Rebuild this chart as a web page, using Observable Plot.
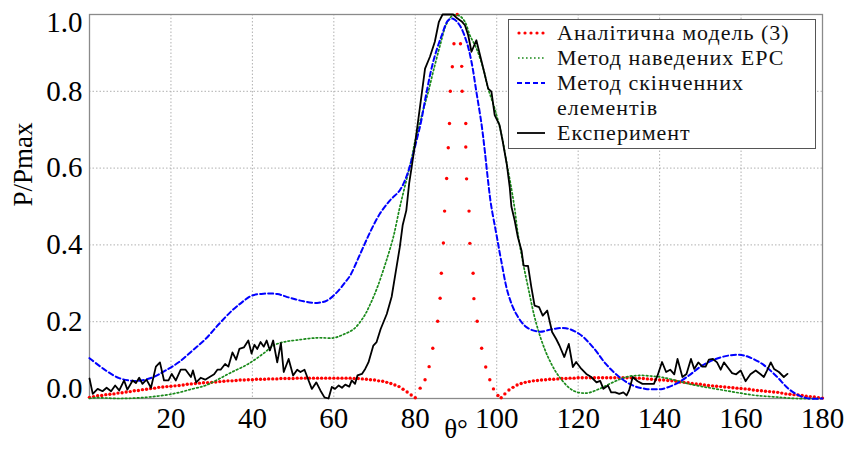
<!DOCTYPE html>
<html><head><meta charset="utf-8">
<script src="https://cdn.jsdelivr.net/npm/d3@7"></script>
<script src="https://cdn.jsdelivr.net/npm/@observablehq/plot@0.6"></script>
<style>
body{margin:0;background:#fff;}
#wrap{position:relative;width:864px;height:450px;font-family:"Liberation Serif","Times New Roman",serif;}
#legend{position:absolute;left:508px;top:19px;width:308px;height:130px;border:1px solid #555;background:#fff;box-sizing:border-box;}
.it{position:absolute;left:0;height:22px;width:300px;}
.it svg{position:absolute;left:8px;top:4px;}
.it span{position:absolute;left:48px;top:0;font-family:"Liberation Serif","Times New Roman",serif;font-size:22px;line-height:22px;letter-spacing:1px;color:#111;white-space:nowrap;}
</style>
</head><body>
<div id="wrap"></div>
<script>
// ---- data (θ in degrees, P/Pmax) ----
const xTicks = [20, 40, 60, 80, 100, 120, 140, 160, 180];
const yTicks = [0.2, 0.4, 0.6, 0.8];
const xGrid = [20, 40, 60, 80, 100, 120, 140, 160];
const yGrid = [0.2, 0.4, 0.6, 0.8];

const legendLabels = ["Аналітична модель (3)", "Метод наведених ЕРС", "Метод скінченних", "елементів", "Експеримент"];

// Аналітична модель (3)
const analytic = [
[0,0.003],[1,0.005],[2,0.007],[3,0.008],[4,0.010],[5,0.011],[6,0.012],[7,0.014],[8,0.015],[9,0.017],
[10,0.018],[11,0.020],[12,0.021],[13,0.023],[14,0.024],[15,0.026],[16,0.027],[17,0.029],[18,0.030],[19,0.031],
[20,0.032],[21,0.033],[22,0.034],[23,0.035],[24,0.037],[25,0.038],[26,0.039],[27,0.040],[28,0.041],[29,0.041],
[30,0.042],[31,0.043],[32,0.044],[33,0.045],[34,0.046],[35,0.046],[36,0.047],[37,0.048],[38,0.048],[39,0.049],
[40,0.049],[41,0.050],[42,0.050],[43,0.050],[44,0.051],[45,0.051],[46,0.051],[47,0.052],[48,0.052],[49,0.052],
[50,0.052],[51,0.053],[52,0.053],[53,0.053],[54,0.053],[55,0.053],[56,0.053],[57,0.053],[58,0.053],[59,0.053],
[60,0.053],[61,0.053],[62,0.053],[63,0.053],[64,0.053],[65,0.052],[66,0.052],[67,0.051],[68,0.050],[69,0.049],
[70,0.048],[71,0.046],[72,0.045],[73,0.042],[74,0.039],[75,0.035],[76,0.031],[77,0.024],[78,0.017],[79,0.009],
[80,0.002],[81.2,0.027],[82.4,0.049],[83.4,0.083],[84.3,0.131],[85.5,0.201],[86.1,0.261],[86.4,0.326],[86.9,0.405],
[87.2,0.488],[87.7,0.573],[88.1,0.653],[88.4,0.716],[88.6,0.8],[89.1,0.864],[89.5,0.924],[90.3,1.0],[91.1,0.924],
[91.4,0.865],[91.5,0.8],[92.4,0.716],[92.4,0.655],[92.6,0.572],[93.2,0.488],[93.4,0.404],[94.2,0.326],[94.4,0.26],
[95.2,0.201],[96.3,0.131],[97.3,0.082],[98.3,0.049],[99.2,0.025],[100.3,0.008],[101.1,0.002],
[102,0.012],[103,0.022],[104,0.029],[105,0.035],[106,0.039],[107,0.042],[108,0.044],[109,0.046],
[110,0.047],[111,0.048],[112,0.049],[113,0.050],[114,0.050],[115,0.051],[116,0.052],[117,0.052],[118,0.053],[119,0.053],
[120,0.054],[121,0.054],[122,0.054],[123,0.054],[124,0.054],[125,0.054],[126,0.054],[127,0.054],[128,0.054],[129,0.054],
[130,0.054],[131,0.054],[132,0.054],[133,0.054],[134,0.053],[135,0.053],[136,0.052],[137,0.051],[138,0.050],[139,0.049],
[140,0.048],[141,0.048],[142,0.047],[143,0.046],[144,0.045],[145,0.043],[146,0.042],[147,0.041],[148,0.039],[149,0.038],
[150,0.037],[151,0.035],[152,0.034],[153,0.033],[154,0.032],[155,0.031],[156,0.030],[157,0.029],[158,0.028],[159,0.027],
[160,0.026],[161,0.025],[162,0.024],[163,0.022],[164,0.021],[165,0.020],[166,0.019],[167,0.018],[168,0.017],[169,0.016],
[170,0.014],[171,0.012],[172,0.011],[173,0.010],[174,0.009],[175,0.008],[176,0.006],[177,0.005],[178,0.004],[179,0.002],[180,0.001]
];

// Метод наведених ЕРС
const emf = [
[0,0],[1.6,0.002],[7.3,0.0],[13.8,0.003],[20.4,0.012],[25.3,0.025],[28.5,0.034],[31.8,0.051],[35.0,0.069],[38.3,0.086],
[40.3,0.099],[42.8,0.118],[45.2,0.138],[47.6,0.147],[50.9,0.152],[55.9,0.158],[60,0.158],[62.4,0.167],[64.9,0.181],
[67.3,0.212],[69.0,0.247],[70.7,0.29],[72.9,0.359],[74.6,0.42],[76.2,0.498],[77.9,0.572],[79.1,0.625],[79.9,0.668],
[81.6,0.738],[83.2,0.799],[84.4,0.851],[86.1,0.92],[87.7,0.976],[89.3,0.998],[90.9,0.996],[92.2,0.981],[93.4,0.946],
[95.0,0.912],[96.7,0.859],[97.9,0.807],[99.5,0.755],[101.2,0.686],[102.4,0.616],[103.6,0.547],[104.4,0.495],[105.2,0.429],
[106.5,0.351],[107.7,0.29],[109.3,0.212],[111.0,0.151],[113.0,0.099],[115.4,0.056],[118.7,0.021],[122.0,0.014],
[125.2,0.025],[128.5,0.042],[131.8,0.056],[135.0,0.06],[138.3,0.058],[140.7,0.055],[144.0,0.047],[147.2,0.038],
[150.5,0.031],[153.8,0.025],[158.7,0.016],[163.6,0.008],[168.5,0.004],[173.4,0.0],[180,0]
];

// Метод скінченних елементів
const fem = [
[0,0.105],[4.0,0.073],[7.3,0.053],[9.8,0.047],[12.2,0.046],[15.5,0.055],[18.7,0.073],[22.0,0.095],[25.3,0.125],
[28.5,0.155],[31.8,0.194],[35.0,0.229],[37.5,0.251],[39.9,0.268],[42.8,0.273],[46.1,0.272],[49.3,0.262],[52.6,0.253],
[55.9,0.249],[58.3,0.255],[60.8,0.277],[62.8,0.303],[64.0,0.32],[66.5,0.377],[68.9,0.433],[71.3,0.481],[73.8,0.516],
[76.2,0.542],[77.9,0.58],[79.2,0.625],[80.5,0.68],[81.4,0.72],[82.8,0.799],[84.4,0.877],[86.5,0.946],[88.1,0.985],
[89.3,0.989],[90.9,0.972],[92.6,0.929],[93.8,0.877],[95.0,0.799],[96.3,0.712],[97.1,0.642],[97.9,0.564],[98.6,0.505],
[99.9,0.429],[101.1,0.359],[102.8,0.273],[104.8,0.22],[107.3,0.186],[110.5,0.174],[113.8,0.181],[117.0,0.183],
[120.3,0.168],[123.6,0.134],[126.8,0.09],[130.1,0.056],[133.4,0.034],[136.6,0.025],[139.5,0.024],[140.7,0.025],
[144.0,0.038],[147.2,0.06],[150.5,0.086],[153.8,0.103],[157.0,0.112],[159.5,0.114],[161.9,0.108],[165.2,0.090],
[168.5,0.06],[171.7,0.025],[174.2,0.008],[176.6,0.0],[180,0]
];

// Експеримент
const experiment = [
[0,0.052],[0.8,0.012],[2.0,0.025],[3.2,0.019],[4.2,0.028],[5.3,0.019],[6.3,0.034],[7.3,0.021],[8.5,0.047],[9.3,0.023],
[10.6,0.047],[11.4,0.040],[12.2,0.054],[13.0,0.038],[14.0,0.049],[15.1,0.028],[16.3,0.083],[17.3,0.094],[18.3,0.047],
[19.4,0.047],[20.2,0.064],[21.2,0.047],[22.4,0.075],[23.6,0.075],[24.9,0.056],[25.4,0.073],[26.2,0.042],[27.3,0.054],
[28.4,0.049],[29.5,0.056],[30.6,0.063],[31.4,0.075],[32.2,0.075],[33.3,0.090],[34.1,0.083],[35.1,0.120],[36.0,0.101],
[36.8,0.129],[37.9,0.133],[39.0,0.151],[39.8,0.117],[40.5,0.140],[41.2,0.129],[42.0,0.147],[42.8,0.135],[43.5,0.151],
[44.3,0.125],[45.1,0.151],[46.1,0.094],[47.0,0.144],[47.7,0.069],[48.9,0.103],[50.0,0.060],[51.0,0.075],[51.8,0.069],
[52.8,0.075],[53.8,0.047],[54.6,0.025],[55.7,0.042],[56.7,0.021],[57.7,0.003],[58.7,0],[59.5,0.030],[60.3,0.025],
[61.2,0.034],[62.0,0.028],[62.8,0.036],[63.8,0.031],[64.4,0.047],[65.2,0.038],[65.8,0.060],[66.9,0.064],[67.7,0.077],
[68.5,0.094],[69.7,0.138],[70.5,0.147],[71.5,0.181],[73.0,0.220],[74.2,0.265],[75.2,0.33],[76.2,0.394],[76.9,0.451],
[77.8,0.49],[78.5,0.56],[79.1,0.602],[79.9,0.66],[81.1,0.755],[82.4,0.859],[83.6,0.89],[84.8,0.929],[85.8,0.981],
[86.7,1.0],[89.3,1.0],[90.3,0.99],[91.4,0.982],[92.2,0.972],[93.0,0.946],[93.8,0.903],[95.0,0.933],[96.3,0.877],
[97.9,0.807],[98.7,0.799],[99.5,0.738],[100.7,0.712],[101.5,0.668],[102.5,0.608],[103.2,0.55],[103.6,0.50],[104.4,0.464],
[105.2,0.42],[106.1,0.385],[106.6,0.346],[107.7,0.345],[108.5,0.29],[109.3,0.242],[110.4,0.238],[111.3,0.216],
[112.4,0.229],[113.6,0.173],[114.6,0.155],[115.4,0.138],[116.6,0.108],[117.7,0.142],[118.7,0.082],[119.5,0.095],
[120.8,0.077],[122.0,0.064],[123.2,0.056],[124.5,0.042],[125.4,0.046],[126.2,0.025],[127.3,0.034],[128.1,0.016],
[129.1,0.016],[130.1,0.012],[131.1,0.016],[131.9,0.008],[132.5,0.021],[133.4,0.056],[134.6,0.045],[135.8,0.038],
[138.6,0.038],[139.5,0.060],[140.6,0.095],[141.6,0.069],[142.6,0.075],[143.6,0.063],[144.4,0.103],[145.6,0.056],
[146.6,0.064],[147.7,0.103],[148.5,0.077],[149.5,0.094],[150.5,0.083],[151.3,0.083],[152.1,0.101],[153.1,0.103],
[154.1,0.094],[155.0,0.075],[155.8,0.094],[156.8,0.080],[157.8,0.066],[158.8,0.063],[159.9,0.073],[161.1,0.045],
[162.3,0.063],[163.6,0.073],[164.8,0.063],[165.6,0.056],[166.4,0.073],[167.3,0.094],[168.1,0.077],[169.3,0.069],
[170.5,0.056],[171.4,0.064]
];

const colors = {analytic: "#ff0000", emf: "#1a8a1a", fem: "#0000ff", exp: "#000000"};

const tickStyle = {tickSize: 0, fontSize: 29, fill: "#000", label: null};

const chart = Plot.plot({
  width: 864, height: 450,
  marginLeft: 89, marginRight: 42, marginTop: 14, marginBottom: 52,
  style: {fontFamily: "'Liberation Serif','Times New Roman',serif", background: "#fff", color: "#000"},
  x: {domain: [0, 180]},
  y: {domain: [0, 1]},
  marks: [
    Plot.gridX(xGrid, {stroke: "#b0b0b0", strokeOpacity: 1, strokeDasharray: "1.5,2"}),
    Plot.gridY(yGrid, {stroke: "#b0b0b0", strokeOpacity: 1, strokeDasharray: "1.5,2"}),
    Plot.frame({stroke: "#8a8a8a", strokeWidth: 1.3}),
    Plot.dot(analytic, {x: d => d[0], y: d => d[1], r: 1.7, fill: colors.analytic, stroke: "none"}),
    Plot.line(emf, {x: d => d[0], y: d => d[1], stroke: colors.emf, strokeWidth: 1.7, strokeDasharray: "1.6,2.4", curve: "catmull-rom"}),
    Plot.line(fem, {x: d => d[0], y: d => d[1], stroke: colors.fem, strokeWidth: 2, strokeDasharray: "5,3", curve: "catmull-rom"}),
    Plot.line(experiment, {x: d => d[0], y: d => d[1], stroke: colors.exp, strokeWidth: 1.8}),
    Plot.axisX(xTicks, {...tickStyle, tickPadding: 9, tickFormat: d => String(d)}),
    Plot.axisY(yTicks, {...tickStyle, tickPadding: 7, tickFormat: d => d.toFixed(1)}),
    Plot.axisY([1], {...tickStyle, tickPadding: 7, dy: 8, tickFormat: d => d.toFixed(1)}),
    Plot.axisY([0], {...tickStyle, tickPadding: 7, dy: -10, tickFormat: d => d.toFixed(1)}),
    Plot.text(["P/Pmax"], {frameAnchor: "left", dx: -66, rotate: -90, fontSize: 27, fill: "#000"}),
    Plot.text(["θ°"], {frameAnchor: "bottom", dy: 39, dx: 0, fontSize: 27, fill: "#000"})
  ]
});

const wrap = document.getElementById("wrap");
wrap.appendChild(chart);

// legend (HTML overlay inside plot area)
const lg = document.createElement("div");
lg.id = "legend";
const swatches = [
  `<line x1="2" y1="7" x2="28" y2="7" stroke="${colors.analytic}" stroke-width="3.2" stroke-linecap="round" stroke-dasharray="0,6"/>`,
  `<line x1="1" y1="7" x2="28" y2="7" stroke="${colors.emf}" stroke-width="1.7" stroke-dasharray="1.6,2.4"/>`,
  `<line x1="0" y1="7" x2="28" y2="7" stroke="${colors.fem}" stroke-width="2" stroke-dasharray="5,3"/>`,
  null,
  `<line x1="0" y1="7" x2="28" y2="7" stroke="${colors.exp}" stroke-width="1.8"/>`
];
const rowTops = [2, 27, 52, 77, 102];
legendLabels.forEach((lab, i) => {
  const it = document.createElement("div");
  it.className = "it";
  it.style.top = rowTops[i] + "px";
  it.innerHTML = (swatches[i] ? `<svg width="30" height="14">${swatches[i]}</svg>` : "") + `<span>${lab}</span>`;
  lg.appendChild(it);
});
wrap.appendChild(lg);
</script>
</body></html>
